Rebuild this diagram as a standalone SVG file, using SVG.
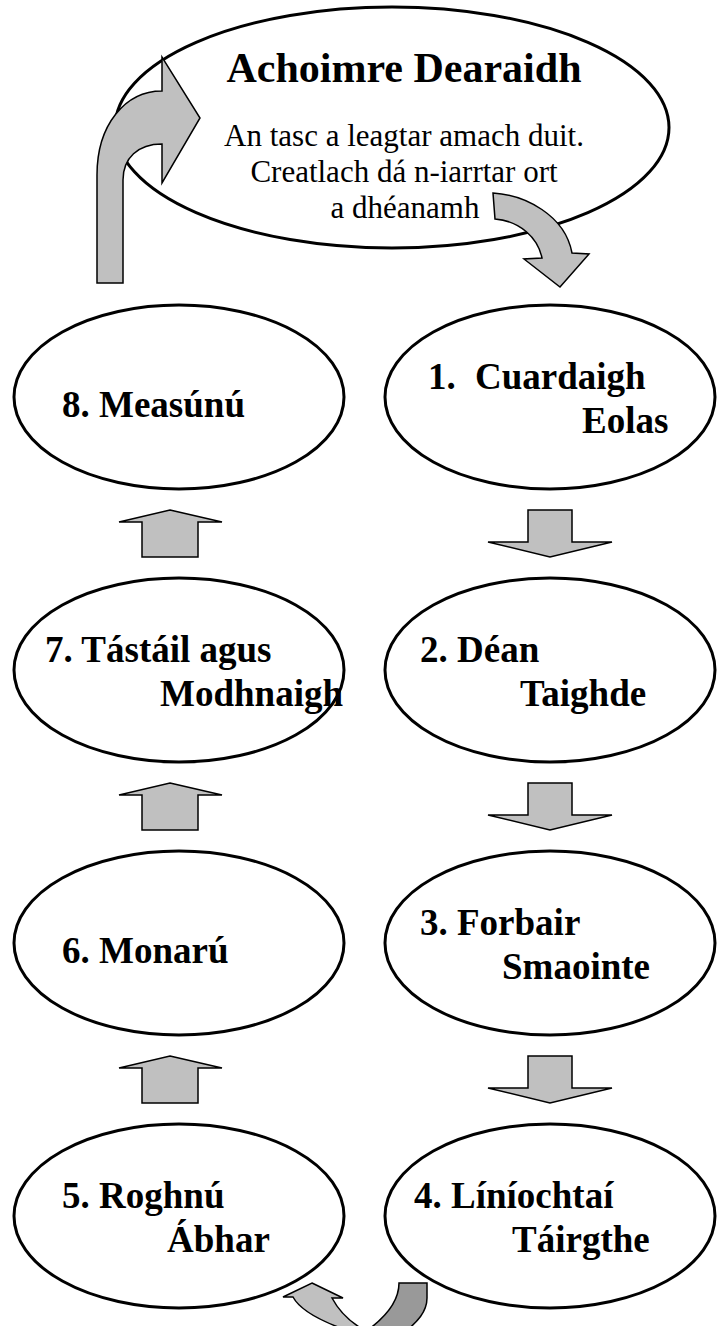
<svg xmlns="http://www.w3.org/2000/svg" xmlns:xlink="http://www.w3.org/1999/xlink" width="717" height="1326" viewBox="0 0 717 1326">
<defs>
<ellipse id="nodeShape" cx="0" cy="0" rx="165" ry="92" fill="#fff" stroke="#000" stroke-width="3"/>
</defs>
<rect width="717" height="1326" fill="#fff"/>
<g id="brief" fill="#000" text-anchor="middle">
<ellipse cx="392" cy="127.5" rx="277" ry="120.5" fill="#fff" stroke="#000" stroke-width="3"/>
<text x="404" y="82" font-family="Liberation Serif" style="font-family:Liberation Serif,serif !important;font-size:42px;font-weight:bold">Achoimre Dearaidh</text>
<text x="404" y="146" font-family="Liberation Serif" style="font-family:Liberation Serif,serif !important;font-size:31px">An tasc a leagtar amach duit.</text>
<text x="404" y="182" font-family="Liberation Serif" style="font-family:Liberation Serif,serif !important;font-size:31px">Creatlach d&#225; n-iarrtar ort</text>
<text x="405" y="218" font-family="Liberation Serif" style="font-family:Liberation Serif,serif !important;font-size:31px">a dh&#233;anamh</text>
</g>
<g fill="#000">
<g id="n8">
<use href="#nodeShape" xlink:href="#nodeShape" x="179" y="397"/>
<text x="62" y="417" font-family="Liberation Serif" style="font-family:Liberation Serif,serif !important;font-size:37px;font-weight:bold">8. Meas&#250;n&#250;</text>
</g>
<g id="n1">
<use href="#nodeShape" xlink:href="#nodeShape" x="550" y="397"/>
<text x="428" y="389" font-family="Liberation Serif" style="font-family:Liberation Serif,serif !important;font-size:37px;font-weight:bold">1. <tspan x="475">Cuardaigh</tspan></text>
<text x="582" y="433" font-family="Liberation Serif" style="font-family:Liberation Serif,serif !important;font-size:37px;font-weight:bold">Eolas</text>
</g>
<g id="n7">
<use href="#nodeShape" xlink:href="#nodeShape" x="179" y="670"/>
<text x="45" y="662" font-family="Liberation Serif" style="font-family:Liberation Serif,serif !important;font-size:37px;font-weight:bold">7. T&#225;st&#225;il agus</text>
<text x="160" y="706" font-family="Liberation Serif" style="font-family:Liberation Serif,serif !important;font-size:37px;font-weight:bold">Modhnaigh</text>
</g>
<g id="n2">
<use href="#nodeShape" xlink:href="#nodeShape" x="550" y="670"/>
<text x="420" y="662" font-family="Liberation Serif" style="font-family:Liberation Serif,serif !important;font-size:37px;font-weight:bold">2. D&#233;an</text>
<text x="520" y="706" font-family="Liberation Serif" style="font-family:Liberation Serif,serif !important;font-size:37px;font-weight:bold">Taighde</text>
</g>
<g id="n6">
<use href="#nodeShape" xlink:href="#nodeShape" x="179" y="943"/>
<text x="62" y="963" font-family="Liberation Serif" style="font-family:Liberation Serif,serif !important;font-size:37px;font-weight:bold">6. Monar&#250;</text>
</g>
<g id="n3">
<use href="#nodeShape" xlink:href="#nodeShape" x="550" y="943"/>
<text x="420" y="935" font-family="Liberation Serif" style="font-family:Liberation Serif,serif !important;font-size:37px;font-weight:bold">3. Forbair</text>
<text x="502" y="979" font-family="Liberation Serif" style="font-family:Liberation Serif,serif !important;font-size:37px;font-weight:bold">Smaointe</text>
</g>
<g id="n5">
<use href="#nodeShape" xlink:href="#nodeShape" x="179" y="1216"/>
<text x="62" y="1208" font-family="Liberation Serif" style="font-family:Liberation Serif,serif !important;font-size:37px;font-weight:bold">5. Roghn&#250;</text>
<text x="167" y="1252" font-family="Liberation Serif" style="font-family:Liberation Serif,serif !important;font-size:37px;font-weight:bold">&#193;bhar</text>
</g>
<g id="n4">
<use href="#nodeShape" xlink:href="#nodeShape" x="550" y="1216"/>
<text x="414" y="1208" font-family="Liberation Serif" style="font-family:Liberation Serif,serif !important;font-size:37px;font-weight:bold">4. L&#237;n&#237;ochta&#237;</text>
<text x="512" y="1252" font-family="Liberation Serif" style="font-family:Liberation Serif,serif !important;font-size:37px;font-weight:bold">T&#225;irgthe</text>
</g>
</g>
<g id="connectors" fill="#c0c0c0" stroke="#000" stroke-width="1.5">
<path d="M97,283 L97,175 C97,125 125,91 162,91 L162,57 L200,118 L162,183 L162,144 C138,144 123,158 123,180 L123,283 Z"/>
<path d="M493,193 C525,195 565,215 572,253 L589,254 L560,287 L524,259 L542,258 C538,238 520,221 495,219 Z"/>
<path d="M528,510 L572,510 L572,542 L612,542 L550,557 L488,542 L528,542 Z"/>
<path d="M528,783 L572,783 L572,815 L612,815 L550,830 L488,815 L528,815 Z"/>
<path d="M528,1056 L572,1056 L572,1088 L612,1088 L550,1103 L488,1088 L528,1088 Z"/>
<path d="M170,1056 L222,1068 L198,1068 L198,1103 L142,1103 L142,1068 L119,1068 Z"/>
<path d="M170,783 L222,795 L198,795 L198,830 L142,830 L142,795 L119,795 Z"/>
<path d="M170,510 L222,522 L198,522 L198,557 L142,557 L142,522 L119,522 Z"/>
<path fill="#999999" d="M399,1283 L427,1283 L427,1298 C427,1312 417,1322 405,1332 L365,1332 C385,1318 399,1302 399,1283 Z"/>
<path d="M312,1283 L343,1298 L332,1298 C340,1313 352,1324 368,1332 L352,1332 C322,1322 300,1310 293,1297 L283,1297 Z"/>
</g>
</svg>
